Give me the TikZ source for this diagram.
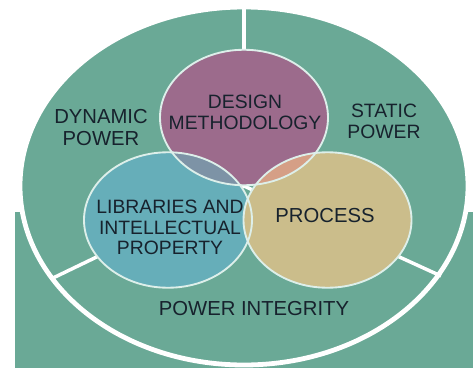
\documentclass[tikz,border=0pt]{standalone}
\usepackage{fontspec}
\setmainfont{Liberation Sans}
\definecolor{tealbg}{HTML}{6AA996}
\definecolor{mauve}{HTML}{9C6B8C}
\definecolor{cyanc}{HTML}{66AEB9}
\definecolor{tanc}{HTML}{CBBD8B}
\definecolor{mc}{HTML}{7D93A6}
\definecolor{mt}{HTML}{D59F86}
\definecolor{rim}{HTML}{DDEFEA}
\definecolor{txt}{HTML}{17222D}
\begin{document}
\begin{tikzpicture}[x=0.75pt,y=-0.75pt,
  lbl/.style={font=\fontsize{14.5}{15.6}\selectfont, text=txt, align=center, inner sep=0pt},
  biglbl/.style={lbl, font=\fontsize{15.2}{15.9}\selectfont},
  divider/.style={white, line width=2.6pt},
  venn/.style={draw=rim, line width=1.4pt},
  bigrx/.style={x radius=168pt, y radius=134.25pt},
  smallr/.style={x radius=63pt, y radius=50.8pt}]
\useasboundingbox (0,0) rectangle (473,374);
\fill[white] (0,0) rectangle (473,374);
% background band
\fill[tealbg] (15,212) rectangle (473,368);
% outer pie
\coordinate (c) at (244,186);
\coordinate (t) at (244,7);
\coordinate (l) at (53,278);
\coordinate (r) at (441,276);
\fill[tealbg] (c) ellipse [bigrx];
\draw[divider] (c) -- (t);
\draw[divider] (c) -- (l);
\draw[divider] (c) -- (r);
\draw[white, line width=3.6pt] (c) ellipse [bigrx];
% venn circles
\coordinate (pd) at (244,117.5);
\coordinate (pl) at (168,220);
\coordinate (pp) at (327.5,220);
\fill[cyanc] (pl) ellipse [smallr];
\fill[tanc] (pp) ellipse [smallr];
\fill[mauve] (pd) ellipse [smallr];
\begin{scope}
  \clip (pd) ellipse [smallr];
  \fill[mc] (pl) ellipse [smallr];
  \fill[mt] (pp) ellipse [smallr];
\end{scope}
\draw[venn] (pd) ellipse [smallr];
\draw[venn] (pl) ellipse [smallr];
\draw[venn] (pp) ellipse [smallr];
% labels
\node[lbl] (design) at (245,112) {DESIGN\\METHODOLOGY};
\node[biglbl] (dyn) at (101,127.5) {DYNAMIC\\POWER};
\node[lbl] (stat) at (384,121.5) {STATIC\\POWER};
\node[lbl] (lib) at (170,227.5) {LIBRARIES AND\\INTELLECTUAL\\PROPERTY};
\node[biglbl] (proc) at (325,216) {PROCESS};
\node[biglbl] (pint) at (254,309) {POWER INTEGRITY};
\end{tikzpicture}
\end{document}
